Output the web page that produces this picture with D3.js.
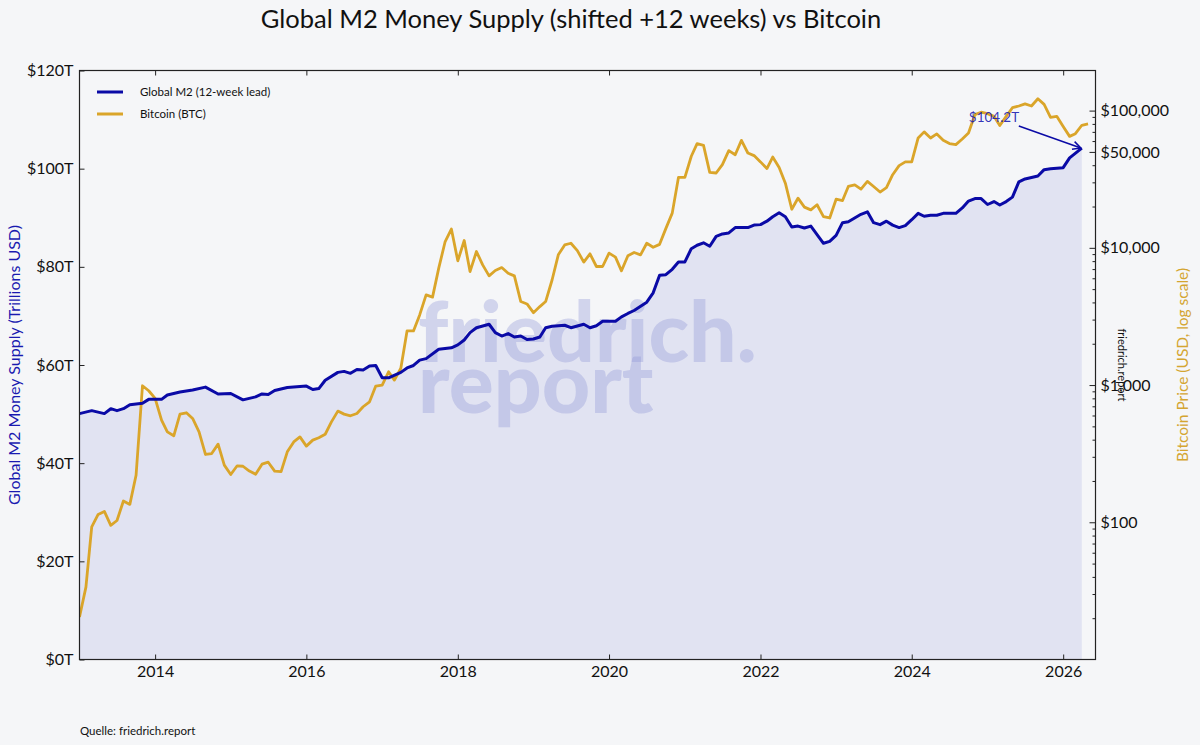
<!DOCTYPE html>
<html><head><meta charset="utf-8">
<script src="https://cdn.jsdelivr.net/npm/d3@7"></script>
<style>
html,body{margin:0;padding:0;background:#f5f6f8;}
svg{display:block;font-family:Lato,"Noto Sans",sans-serif;}
</style></head><body>
<svg id="chart" width="1200" height="745"></svg>
<script>
// ---- data ----
const m2Dates = ["2013-01","2013-03","2013-05","2013-06","2013-07","2013-08","2013-09","2013-11","2013-12",
"2014-02","2014-03","2014-05","2014-07","2014-09","2014-11",
"2015-01","2015-03","2015-05","2015-06","2015-07","2015-08","2015-10",
"2016-01","2016-02","2016-03","2016-04","2016-06","2016-07","2016-08","2016-09","2016-10","2016-11","2016-12",
"2017-01","2017-02","2017-04","2017-05","2017-06","2017-07","2017-08","2017-10","2017-12",
"2018-01","2018-02","2018-03","2018-04","2018-06","2018-07","2018-08","2018-09","2018-10","2018-11","2018-12",
"2019-01","2019-02","2019-03","2019-04","2019-06","2019-07","2019-09","2019-10","2019-11","2019-12",
"2020-01","2020-02","2020-03","2020-04","2020-05","2020-07","2020-08","2020-09","2020-10","2020-11","2020-12",
"2021-01","2021-02","2021-03","2021-04","2021-05","2021-06","2021-07","2021-08","2021-09","2021-11","2021-12",
"2022-01","2022-02","2022-03","2022-04","2022-05","2022-06","2022-07","2022-08","2022-09","2022-11","2022-12",
"2023-01","2023-02","2023-03","2023-05","2023-06","2023-07","2023-08","2023-09","2023-10","2023-11","2023-12",
"2024-01","2024-02","2024-03","2024-04","2024-05","2024-06","2024-08","2024-09","2024-10","2024-11","2024-12",
"2025-01","2025-02","2025-03","2025-04","2025-05","2025-06","2025-07","2025-08","2025-09","2025-10","2025-11",
"2026-01","2026-02","2026-04"];
const m2Values = [50.1,50.7,50.1,51.1,50.7,51.1,51.9,52.2,53.0,
53.0,53.9,54.5,54.9,55.5,54.1,
54.2,52.9,53.5,54.1,54.0,54.8,55.4,
55.7,55.0,55.2,56.9,58.5,58.7,58.3,59.1,59.0,59.8,59.9,
57.4,57.4,58.5,59.4,59.9,61.0,61.3,63.2,63.5,
64.1,65.1,66.6,67.6,68.3,66.6,65.9,66.4,65.7,65.9,65.2,
65.3,65.7,67.6,67.9,68.1,67.6,68.3,67.6,68.0,68.9,
68.9,68.9,69.8,70.5,71.1,72.8,74.7,78.3,78.4,79.5,81.0,
81.0,83.7,84.4,84.9,84.2,86.2,86.7,86.9,88.0,88.0,88.5,
88.6,89.3,90.2,91.0,90.2,88.1,88.3,87.9,88.3,84.8,85.2,
86.4,89.0,89.2,90.7,91.2,89.0,88.6,89.3,88.5,88.0,88.4,
89.6,90.9,90.3,90.5,90.5,90.9,90.9,92.0,93.4,93.9,93.9,
92.7,93.3,92.6,93.3,94.2,97.3,97.9,98.2,98.5,99.8,100.0,
100.2,102.2,104.2];

const btcFirstMonth = "2013-01";
const btcLastMonth = "2026-05";
const btcValues = [20.4,33.7,92.5,114,120,95,103,143,135,220,988,909,
800,556,456,427,614,628,571,456,312,317,371,261,
223,258,256,236,224,265,274,236,234,326,385,419,
359,397,413,438,539,646,614,597,620,695,755,984,
1000,1250,1087,1325,2480,2480,3243,4540,4370,7110,11120,13700,
8040,11300,6710,9400,7510,6250,6830,7180,6530,6250,4060,3900,
3370,3730,4060,5830,8890,10500,10800,9550,7870,9040,7310,7310,
9150,8550,6800,8750,9250,8890,10800,10100,10600,13800,17900,32600,
32600,46500,57500,55800,35500,35100,40400,51100,47700,60700,49100,47000,
42300,37800,45900,38500,29600,19100,23000,19800,18900,20600,16900,16500,
22600,22100,28000,28800,26800,30500,28000,25500,27500,34100,39700,42300,
42300,63200,70000,63200,67600,60700,57500,56500,62100,68700,93500,97300,
95100,90800,77800,90800,105000,108000,112000,108000,122000,111000,89300,90800,
76700,64900,67900,78200,80000];

const yearTicks = [2014,2016,2018,2020,2022,2024,2026];
const m2Ticks = [0,20,40,60,80,100,120];
const btcTicks = [100,1000,10000,50000,100000];
const btcMinorTicks = [20,30,40,50,60,70,80,90,200,300,400,500,600,700,800,900,
2000,3000,4000,5000,6000,7000,8000,9000,20000,30000,40000,60000,70000,80000,90000];
const annotationText = "$104.2T";
const watermarkLines = ["friedrich.","report"];

// ---- layout ----
const W = 1200, H = 745;
const L = 79.5, R = 1095.5, T = 70.5, B = 659.5;
const parseM = d3.utcParse("%Y-%m");

const m2 = m2Dates.map((d,i)=>({date:parseM(d), v:m2Values[i]}));
const btcMonths = d3.utcMonth.range(parseM(btcFirstMonth), d3.utcMonth.offset(parseM(btcLastMonth),1));
const btc = btcMonths.map((d,i)=>({date:d, v:btcValues[i]}));

const x = d3.scaleUtc().domain([new Date(Date.UTC(2013,0,1)), new Date(Date.UTC(2026,5,6))]).range([L,R]);
const yL = d3.scaleLinear().domain([0,120]).range([B,T]);
const yR = d3.scaleLog().domain([10,196000]).range([B,T]);

const svg = d3.select("#chart");
svg.append("rect").attr("width",W).attr("height",H).attr("fill","#f5f6f8");

svg.append("defs").append("clipPath").attr("id","plotclip")
  .append("rect").attr("x",L).attr("y",T).attr("width",R-L).attr("height",B-T);

const plot = svg.append("g").attr("clip-path","url(#plotclip)");

// area
plot.append("path").datum(m2)
  .attr("fill","#e1e3f2")
  .attr("d", d3.area().x(d=>x(d.date)).y0(yL(0)).y1(d=>yL(d.v)));

// watermark (one text element, two lines)
const wm = plot.append("text").attr("fill","#8f96d8").attr("fill-opacity",0.35)
  .attr("font-weight",900).attr("font-size",84).style("font-family","Lato, sans-serif");
watermarkLines.forEach((s,i)=>{
  wm.append("tspan").attr("x",418).attr("y",362 + i*51).text(s);
});

// lines
plot.append("path").datum(btc)
  .attr("fill","none").attr("stroke","#daa52a").attr("stroke-width",2.8)
  .attr("stroke-linejoin","round")
  .attr("d", d3.line().x(d=>x(d.date)).y(d=>yR(d.v)));
plot.append("path").datum(m2)
  .attr("fill","none").attr("stroke","#0a0aa6").attr("stroke-width",3)
  .attr("stroke-linejoin","round")
  .attr("d", d3.line().x(d=>x(d.date)).y(d=>yL(d.v)));

// axes
const yearDates = yearTicks.map(y=>new Date(Date.UTC(y,0,1)));
const fontSize = 16;
function styleAxis(g){
  g.select(".domain").remove();
  g.selectAll(".tick line").attr("stroke","#222").attr("stroke-width",1);
  g.selectAll(".tick text").attr("fill","#111").attr("font-size",fontSize).style("font-family","Lato, sans-serif");
}
svg.append("g").attr("transform",`translate(0,${B})`)
  .call(d3.axisBottom(x).tickValues(yearDates).tickFormat(d3.utcFormat("%Y")).tickSize(-5).tickPadding(6))
  .call(styleAxis);
svg.append("g").attr("transform",`translate(0,${T})`)
  .call(d3.axisTop(x).tickValues(yearDates).tickFormat("").tickSize(-5))
  .call(styleAxis);
svg.append("g").attr("transform",`translate(${L},0)`)
  .call(d3.axisLeft(yL).tickValues(m2Ticks).tickFormat(d=>`$${d}T`).tickSize(-5).tickPadding(6))
  .call(styleAxis);
svg.append("g").attr("transform",`translate(${R},0)`)
  .call(d3.axisRight(yR).tickValues(btcTicks).tickFormat(d=>"$"+d3.format(",")(d)).tickSize(-6).tickPadding(5))
  .call(styleAxis);
svg.append("g").attr("transform",`translate(${R},0)`)
  .call(d3.axisRight(yR).tickValues(btcMinorTicks).tickFormat("").tickSize(-3))
  .call(styleAxis);

// frame
svg.append("rect").attr("x",L).attr("y",T).attr("width",R-L).attr("height",B-T)
  .attr("fill","none").attr("stroke","#222").attr("stroke-width",1.2);

// title
svg.append("text").attr("x",571).attr("y",28).attr("text-anchor","middle")
  .attr("font-size",25.5).attr("fill","#111").text("Global M2 Money Supply (shifted +12 weeks) vs Bitcoin");

// axis labels
svg.append("text").attr("transform",`translate(20,${(T+B)/2}) rotate(-90)`).attr("text-anchor","middle")
  .attr("font-size",16).attr("fill","#1a1ab0").text("Global M2 Money Supply (Trillions USD)");
svg.append("text").attr("transform",`translate(1188,${(T+B)/2}) rotate(-90)`).attr("text-anchor","middle")
  .attr("font-size",15.5).attr("fill","#d4a531").text("Bitcoin Price (USD, log scale)");
svg.append("text").attr("transform",`translate(1118,${(T+B)/2}) rotate(90)`).attr("text-anchor","middle")
  .attr("font-size",11).attr("fill","#111").text("friedrich.report");

// legend
const legend = [{label:"Global M2 (12-week lead)", color:"#0a0aa6"},{label:"Bitcoin (BTC)", color:"#daa52a"}];
const lg = svg.append("g");
legend.forEach((d,i)=>{
  const yy = 92 + i*22;
  lg.append("line").attr("x1",97).attr("x2",123).attr("y1",yy).attr("y2",yy).attr("stroke",d.color).attr("stroke-width",3);
  lg.append("text").attr("x",140).attr("y",yy+4).attr("font-size",11.5).attr("fill","#111").text(d.label);
});

// annotation
const last = m2[m2.length-1];
const ex = x(last.date), ey = yL(last.v);
svg.append("defs").append("marker").attr("id","arr").attr("viewBox","0 0 10 10")
  .attr("refX",9).attr("refY",5).attr("markerWidth",10).attr("markerHeight",10)
  .attr("markerUnits","userSpaceOnUse").attr("orient","auto")
  .append("path").attr("d","M1,1 L9,5 L1,9").attr("fill","none").attr("stroke","#0a0aa6").attr("stroke-width",1.5);
svg.append("line").attr("x1",ex-63).attr("y1",ey-22).attr("x2",ex-1).attr("y2",ey)
  .attr("stroke","#0a0aa6").attr("stroke-width",1.5).attr("marker-end","url(#arr)");
svg.append("text").attr("x",ex-113).attr("y",ey-26).attr("font-size",13.5).attr("fill","#1a1ab0").attr("fill-opacity",0.9)
  .text(annotationText);

// footer
svg.append("text").attr("x",80).attr("y",735).attr("font-size",11.5).attr("fill","#111").text("Quelle: friedrich.report");
</script>
</body></html>
